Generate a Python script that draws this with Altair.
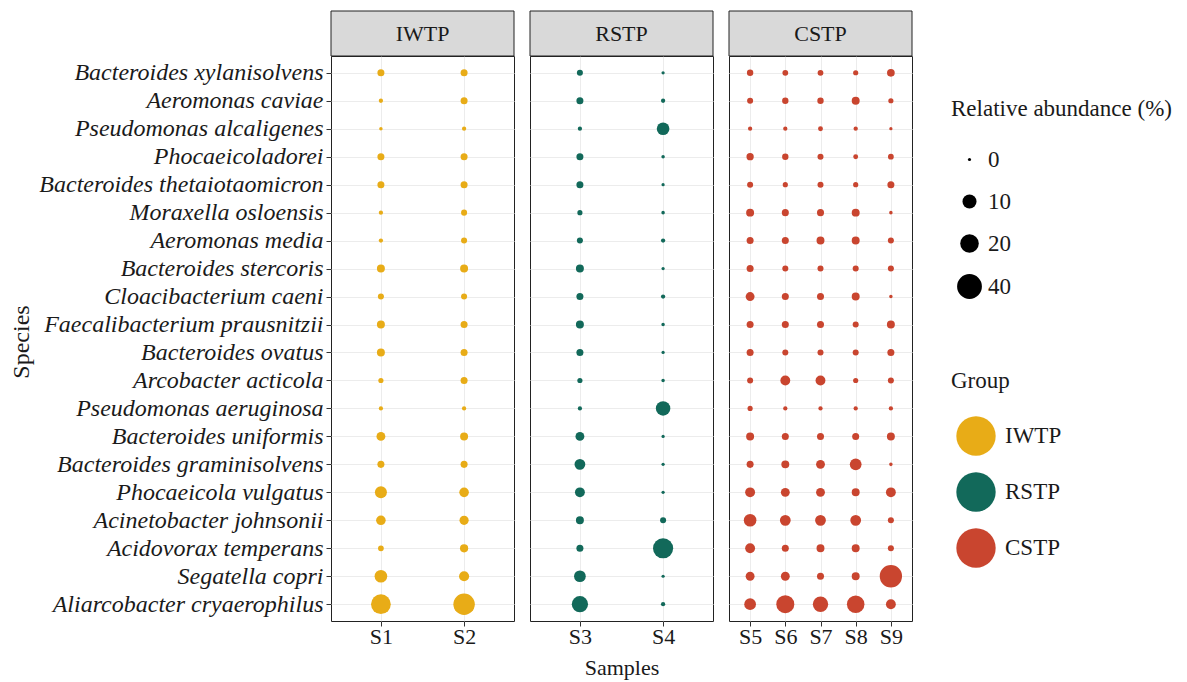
import altair as alt
import pandas as pd

species = [
    "Bacteroides xylanisolvens", "Aeromonas caviae", "Pseudomonas alcaligenes",
    "Phocaeicoladorei", "Bacteroides thetaiotaomicron", "Moraxella osloensis",
    "Aeromonas media", "Bacteroides stercoris", "Cloacibacterium caeni",
    "Faecalibacterium prausnitzii", "Bacteroides ovatus", "Arcobacter acticola",
    "Pseudomonas aeruginosa", "Bacteroides uniformis", "Bacteroides graminisolvens",
    "Phocaeicola vulgatus", "Acinetobacter johnsonii", "Acidovorax temperans",
    "Segatella copri", "Aliarcobacter cryaerophilus",
]

groups = ["IWTP", "RSTP", "CSTP"]
group_samples = {"IWTP": ["S1", "S2"], "RSTP": ["S3", "S4"], "CSTP": ["S5", "S6", "S7", "S8", "S9"]}
group_colors = ["#E8AC17", "#12695A", "#C9452F"]

# relative abundance (%) per sample, in species order
S1 = [1.6, 0.26, 0.06, 1.6, 1.6, 0.26, 0.26, 2.3, 1.0, 2.3, 2.3, 0.58, 0.26, 3.1, 1.6, 6.8, 3.8, 0.88, 7.7, 23.1]
S2 = [1.6, 1.6, 0.26, 1.6, 1.6, 1.0, 1.0, 2.3, 1.0, 1.6, 1.6, 1.6, 0.26, 2.3, 1.6, 3.8, 3.4, 2.5, 4.4, 28.2]
S3 = [1.0, 1.6, 0.26, 1.6, 1.6, 0.58, 1.0, 2.3, 1.6, 2.3, 1.6, 0.58, 0.26, 3.1, 5.2, 4.1, 2.3, 1.6, 6.4, 14.4]
S4 = [0.01, 0.26, 7.7, 0.06, 0.01, 0.06, 0.26, 0.01, 0.26, 0.06, 0.01, 0.06, 10.8, 0.01, 0.01, 0.01, 1.0, 24.3, 0.01, 0.26]
S5 = [1.2, 1.0, 0.26, 1.8, 1.0, 2.3, 1.6, 1.6, 3.1, 1.6, 1.6, 1.0, 0.58, 2.3, 1.6, 4.1, 7.7, 4.1, 3.1, 6.4]
S6 = [0.88, 1.2, 0.26, 1.2, 0.58, 1.6, 1.6, 1.0, 1.6, 1.6, 1.0, 4.1, 0.26, 1.6, 2.3, 3.1, 5.2, 1.6, 3.1, 18.5]
S7 = [0.88, 1.2, 0.47, 1.0, 1.0, 1.6, 2.3, 1.0, 1.6, 1.6, 1.0, 4.1, 0.26, 1.6, 3.1, 3.1, 5.2, 2.3, 1.6, 12.5]
S8 = [0.58, 2.3, 0.26, 0.47, 0.58, 2.3, 2.3, 1.0, 2.3, 1.0, 1.0, 0.58, 0.26, 1.6, 6.4, 2.3, 5.2, 2.3, 2.3, 17.4]
S9 = [2.1, 0.58, 0.01, 0.88, 1.6, 0.06, 1.0, 1.0, 0.06, 2.3, 1.6, 1.0, 0.26, 2.3, 0.06, 4.1, 1.0, 1.0, 31.0, 4.1]
sample_values = {"S1": S1, "S2": S2, "S3": S3, "S4": S4, "S5": S5,
                 "S6": S6, "S7": S7, "S8": S8, "S9": S9}

rows = []
for g in groups:
    for s in group_samples[g]:
        for sp, v in zip(species, sample_values[s]):
            rows.append({"Group": g, "Sample": s, "Species": sp, "Abundance": v})
df = pd.DataFrame(rows)

FONT = "Liberation Serif"
PW, PH, SH = 183, 565, 45

color_scale = alt.Scale(domain=groups, range=group_colors)
size_scale = alt.Scale(type="pow", exponent=0.85, domain=[0, 40], range=[10, 616])

panels = []
for i, g in enumerate(groups):
    sub = df[df["Group"] == g]
    if i == 0:
        yaxis = alt.Axis(title="Species", labelFontStyle="italic", labelFontSize=24,
                         titleFontSize=24, titleFontWeight="normal",
                         titleX=-322, titleY=PH / 2 + 3, titleAngle=-90,
                         titleBaseline="top", titleAlign="center",
                         tickSize=5, labelPadding=3, grid=True, labelLimit=500)
    else:
        yaxis = alt.Axis(title=None, labels=False, ticks=False, grid=True)
    xaxis = alt.Axis(title="Samples" if i == 1 else None, labelFontSize=22, labelAngle=0,
                     titleFontSize=22, titleFontWeight="normal", tickSize=5,
                     labelPadding=0, titlePadding=10, grid=True)
    circles = alt.Chart(sub).mark_circle(opacity=1).encode(
        x=alt.X("Sample:N", scale=alt.Scale(type="point", padding=0.6), axis=xaxis),
        y=alt.Y("Species:N", sort=species, scale=alt.Scale(type="point", padding=0.6), axis=yaxis),
        size=alt.Size("Abundance:Q", scale=size_scale,
                      legend=alt.Legend(title="Relative abundance (%)", values=[0, 10, 20, 40],
                                        orient="none", legendX=620, legendY=42,
                                        symbolFillColor="black", symbolStrokeColor="black",
                                        symbolStrokeWidth=0, rowPadding=18, titlePadding=27,
                                        symbolOffset=6, labelOffset=6)),
        color=alt.Color("Group:N", scale=color_scale,
                        legend=alt.Legend(title="Group", orient="none", legendX=620, legendY=314,
                                          symbolSize=1550, symbolStrokeWidth=0,
                                          rowPadding=16, titlePadding=23,
                                          symbolOffset=5, labelOffset=9)),
    )
    gdf = pd.DataFrame({"Group": [g]})
    strip = alt.Chart(gdf).mark_rect(fill="#d9d9d9", stroke="#222222", strokeWidth=1).encode(
        x=alt.value(0), x2=alt.value(PW), y=alt.value(-SH), y2=alt.value(0))
    label = alt.Chart(gdf).mark_text(font=FONT, fontSize=22, color="#1a1a1a").encode(
        text="Group:N", x=alt.value(PW / 2), y=alt.value(-SH / 2))
    panels.append(alt.layer(strip, label, circles).properties(width=PW, height=PH))

chart = alt.hconcat(*panels, spacing=14).resolve_scale(
    x="independent", y="shared", color="shared", size="shared"
).properties(
    padding={"left": 0, "top": 2, "right": 5, "bottom": 5}
).configure(font=FONT).configure_view(
    stroke="#222222", strokeWidth=1
).configure_axis(
    labelFont=FONT, titleFont=FONT, labelColor="#1a1a1a", titleColor="#1a1a1a",
    tickColor="#333333", domain=False, gridColor="#ececec", gridWidth=1
).configure_legend(
    labelFont=FONT, titleFont=FONT, labelFontSize=23, titleFontSize=23,
    titleFontWeight="normal", labelColor="#1a1a1a", titleColor="#1a1a1a",
    symbolType="circle", titleLimit=400, labelLimit=200
)

chart.save("out.html", embed_options={"renderer": "svg", "actions": False})
